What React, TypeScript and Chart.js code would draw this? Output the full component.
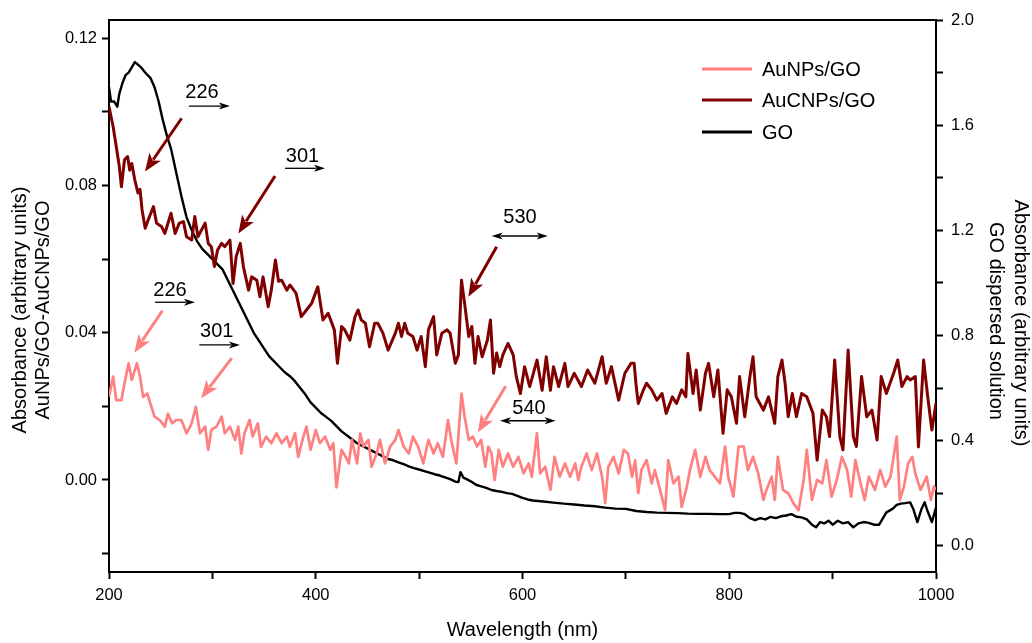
import React, { useEffect, useRef } from 'react';
import { Chart, registerables } from 'chart.js';

Chart.register(...registerables);

const FONT = '"Liberation Sans", Arial, Helvetica, sans-serif';
const COLOR_NP = '#ff8080';
const COLOR_CNP = '#800000';
const COLOR_GO = '#000000';

// ---- Data (wavelength in nm, absorbance) ----
const auNPsNm = [200,204,207,212,215,219,222,227,230,233,
  237,240,244,249,254,257,261,265,270,275,
  280,284,288,293,296,299,304,309,312,317,
  322,325,328,331,336,339,344,347,352,357,
  362,367,372,375,380,383,388,391,395,400,
  404,409,414,417,420,425,429,432,435,440,
  443,446,451,454,459,462,467,472,477,480,
  485,490,494,499,504,509,514,518,523,528,
  531,536,541,544,548,552,556,560,564,567,
  570,573,577,581,586,591,596,601,606,609,
  614,617,622,627,631,636,641,646,651,654,
  657,662,667,672,677,680,683,688,693,698,
  702,706,709,712,715,720,725,728,733,738,
  741,746,751,754,759,762,767,772,777,781,
  786,791,796,799,804,809,814,818,823,828,
  833,836,841,844,847,852,857,862,867,872,
  875,880,885,890,894,899,904,909,914,918,
  922,927,931,935,941,946,951,956,962,965,
  969,973,977,980,985,988,991,995,998,1000];
const auNPsAbs = [0.0226,0.0281,0.0217,0.0217,0.0263,0.0317,0.0272,0.0317,0.0281,0.0226,
  0.0235,0.0208,0.0172,0.0163,0.0145,0.018,0.0154,0.0163,0.0163,0.0127,
  0.0154,0.0199,0.0127,0.0145,0.0082,0.0136,0.0145,0.0172,0.0127,0.0145,
  0.0109,0.0145,0.0072,0.0127,0.0163,0.0118,0.0154,0.009,0.0118,0.01,
  0.0127,0.01,0.0118,0.009,0.0127,0.0063,0.0118,0.0145,0.0082,0.0136,
  0.01,0.0118,0.0082,0.01,-0.002,0.0082,0.0063,0.0045,0.0109,0.0045,
  0.0127,0.0091,0.0109,0.0036,0.0072,0.0109,0.0045,0.0091,0.0109,0.0136,
  0.0091,0.0072,0.0118,0.0091,0.0045,0.0109,0.0072,0.01,0.0063,0.0163,
  0.0109,0.0045,0.0235,0.0172,0.0109,0.0118,0.0091,0.0109,0.0036,0.0091,
  0.0072,0.0,0.0082,0.0036,0.0072,0.0036,0.0063,0.0018,0.0045,0.0009,
  0.0127,0.0018,0.0036,-0.0027,0.0063,0.0009,0.0045,0.0009,0.0045,0.0,
  0.0036,0.0072,0.0027,0.0072,0.0009,-0.0063,0.0036,0.0063,0.0018,0.0082,
  0.0072,0.0009,0.0054,-0.0036,0.0027,0.0054,-0.0009,0.0027,-0.0027,-0.0082,
  0.0054,-0.0009,0.0009,-0.0073,-0.0018,0.0027,0.0082,0.0009,0.0063,0.0027,
  0.0009,-0.0009,0.0091,0.0009,-0.0045,0.0091,0.0091,0.0027,0.0063,0.0018,
  -0.0054,-0.0027,0.0009,-0.0054,0.0063,-0.0027,-0.0036,-0.0063,-0.0082,0.0,
  0.0082,-0.0054,0.0,-0.0009,0.0054,-0.0045,0.0,0.0063,0.0027,-0.0045,
  0.0054,-0.0009,-0.0054,0.0009,-0.0027,0.0027,-0.0018,0.0009,0.0118,-0.0054,
  -0.0018,0.0045,0.0063,0.0018,-0.0027,-0.0009,0.0009,-0.0054,-0.0018,-0.0027];

const auCNPsNm = [200,204,207,210,212,215,218,220,222,225,
  228,230,232,235,238,243,246,251,254,260,
  264,268,272,275,280,283,286,293,296,299,
  302,305,309,312,317,320,323,327,330,335,
  338,343,346,349,354,357,361,364,367,372,
  375,381,386,391,396,402,407,412,418,421,
  425,428,433,438,441,444,448,452,457,460,
  465,470,477,480,483,486,489,494,498,502,
  506,509,514,517,522,527,530,535,538,541,
  544,548,551,554,557,561,566,569,572,575,
  578,581,586,591,594,598,602,607,614,619,
  623,627,630,635,641,644,650,657,663,670,
  677,681,686,693,699,705,708,710,712,717,
  720,725,730,735,739,745,749,754,758,760,
  765,768,772,777,780,785,789,794,798,802,
  807,810,815,820,823,826,833,838,844,847,
  851,854,857,861,865,870,875,881,885,890,
  894,897,902,907,910,915,920,923,928,933,
  938,943,947,952,959,963,967,972,975,980,
  983,988,992,996,1000];
const auCNPsAbs = [0.1015,0.096,0.0906,0.0851,0.0797,0.087,0.0879,0.0842,0.086,0.0815,
  0.078,0.079,0.0734,0.0684,0.0707,0.0743,0.0698,0.0688,0.067,0.0725,
  0.067,0.0698,0.0702,0.0661,0.0652,0.0716,0.0661,0.0698,0.0643,0.0634,
  0.058,0.0625,0.0643,0.0634,0.0652,0.0534,0.0607,0.0643,0.058,0.0516,
  0.0552,0.0543,0.0498,0.0552,0.0471,0.0516,0.0598,0.054,0.0543,0.0516,
  0.053,0.0507,0.0444,0.0462,0.048,0.0525,0.0435,0.0453,0.0408,0.0317,
  0.0417,0.0408,0.038,0.0444,0.0462,0.0435,0.0426,0.0362,0.0426,0.0426,
  0.0399,0.0353,0.0399,0.0426,0.039,0.0426,0.0399,0.039,0.0353,0.039,
  0.0308,0.0408,0.0444,0.034,0.0399,0.0408,0.0399,0.0317,0.034,0.0543,
  0.048,0.039,0.0417,0.0317,0.039,0.0335,0.038,0.0435,0.029,0.0345,
  0.0308,0.034,0.0371,0.034,0.0281,0.0235,0.0308,0.0254,0.0326,0.0244,
  0.0335,0.0244,0.0308,0.0254,0.0317,0.0254,0.029,0.0254,0.0299,0.0263,
  0.0335,0.0263,0.0308,0.0217,0.029,0.0317,0.0317,0.0254,0.0208,0.0245,
  0.0263,0.0245,0.0217,0.0235,0.0181,0.0226,0.0208,0.0245,0.0226,0.0344,
  0.0235,0.0299,0.019,0.029,0.0317,0.0226,0.0299,0.0127,0.0245,0.0226,
  0.0154,0.0281,0.0172,0.0281,0.0335,0.0226,0.019,0.0226,0.0154,0.0281,
  0.0326,0.0263,0.0172,0.0235,0.0172,0.0235,0.0226,0.0181,0.0054,0.019,
  0.0172,0.0118,0.0326,0.0118,0.0082,0.0353,0.0118,0.0091,0.0281,0.0172,
  0.019,0.0109,0.0281,0.0235,0.029,0.0326,0.0254,0.0281,0.0272,0.0281,
  0.009,0.0326,0.0226,0.0136,0.0208];

const goNm = [200,202,205,208,210,213,216,219,222,225,
  228,231,235,240,244,248,252,256,260,265,
  270,275,280,285,290,295,300,305,310,315,
  320,325,330,335,340,345,350,355,360,365,
  370,375,380,385,390,395,400,405,410,415,
  420,425,430,435,440,445,450,455,460,465,
  470,475,480,485,490,495,500,505,510,515,
  520,525,530,535,538,540,543,545,550,555,
  560,565,570,575,580,585,590,595,600,605,
  610,615,620,630,640,650,660,670,680,690,
  700,710,720,730,740,750,760,770,780,790,
  800,805,810,815,820,825,830,835,840,845,
  850,855,860,865,870,875,880,884,888,892,
  896,900,905,910,915,920,925,930,935,940,
  945,948,952,958,962,966,970,975,978,982,
  986,989,992,996,1000];
const goAbs = [1.744,1.69,1.69,1.67,1.72,1.76,1.79,1.80,1.82,1.84,
  1.83,1.82,1.80,1.78,1.745,1.69,1.62,1.56,1.51,1.42,
  1.33,1.25,1.20,1.16,1.13,1.11,1.09,1.07,1.05,1.01,
  0.97,0.93,0.89,0.85,0.81,0.78,0.75,0.72,0.70,0.68,
  0.66,0.645,0.625,0.60,0.575,0.545,0.525,0.505,0.49,0.475,
  0.455,0.435,0.42,0.405,0.39,0.38,0.37,0.36,0.35,0.34,
  0.33,0.325,0.317,0.31,0.302,0.295,0.29,0.284,0.278,0.272,
  0.267,0.26,0.253,0.244,0.242,0.28,0.258,0.255,0.245,0.232,
  0.226,0.22,0.212,0.208,0.205,0.2,0.197,0.19,0.182,0.176,
  0.172,0.17,0.168,0.164,0.16,0.157,0.153,0.15,0.145,0.141,
  0.14,0.132,0.128,0.126,0.125,0.124,0.122,0.121,0.121,0.12,
  0.12,0.125,0.125,0.12,0.105,0.097,0.105,0.1,0.11,0.105,
  0.112,0.115,0.12,0.11,0.108,0.1,0.08,0.07,0.09,0.085,
  0.095,0.08,0.095,0.085,0.09,0.07,0.085,0.09,0.087,0.08,
  0.08,0.1,0.127,0.14,0.155,0.16,0.162,0.165,0.14,0.09,
  0.14,0.165,0.13,0.09,0.145];

// ---- Ticks ----
const xTickValues = [200, 300, 400, 500, 600, 700, 800, 900, 1000];
const xTickLabels = ['200', '', '400', '', '600', '', '800', '', '1000'];
const leftTickValues = [-0.02, 0, 0.02, 0.04, 0.06, 0.08, 0.1, 0.12];
const leftTickLabels = ['', '0.00', '', '0.04', '', '0.08', '', '0.12'];
const rightTickValues = [0, 0.2, 0.4, 0.6, 0.8, 1.0, 1.2, 1.4, 1.6, 1.8, 2.0];
const rightTickLabels = ['0.0', '', '0.4', '', '0.8', '', '1.2', '', '1.6', '', '2.0'];

// ---- Annotations (in data units: nm, left-axis absorbance) ----
const peakLabels = [
  { text: '226', nm: 290.0, abs: 0.1052, from: 277.4, to: 317.0, at: 0.1016, both: false },
  { text: '301', nm: 387.2, abs: 0.0879, from: 370.3, to: 409.0, at: 0.0847, both: false },
  { text: '530', nm: 597.6, abs: 0.0713, from: 570.2, to: 624.4, at: 0.0663, both: true },
  { text: '226', nm: 259.0, abs: 0.0516, from: 244.5, to: 283.2, at: 0.0483, both: false },
  { text: '301', nm: 304.2, abs: 0.0403, from: 287.4, to: 326.7, at: 0.0367, both: false },
  { text: '540', nm: 606.3, abs: 0.0193, from: 578.2, to: 632.1, at: 0.0161, both: true },
];
const pointerArrows = [
  { series: 1, nm1: 270.3, a1: 0.0983, nm2: 234.8, a2: 0.0838 },
  { series: 1, nm1: 360.6, a1: 0.0826, nm2: 325.1, a2: 0.0670 },
  { series: 1, nm1: 575.0, a1: 0.0634, nm2: 547.6, a2: 0.0498 },
  { series: 0, nm1: 251.6, a1: 0.0460, nm2: 224.5, a2: 0.0346 },
  { series: 0, nm1: 318.7, a1: 0.0331, nm2: 289.0, a2: 0.0222 },
  { series: 0, nm1: 583.7, a1: 0.0255, nm2: 556.7, a2: 0.0129 },
];

function toPoints(xs: number[], ys: number[]) {
  return xs.map((x, i) => ({ x, y: ys[i] }));
}

function drawArrow(ctx: CanvasRenderingContext2D, x1: number, y1: number, x2: number, y2: number,
  color: string, width: number, headLen: number, headHalf: number, both: boolean) {
  const ang = Math.atan2(y2 - y1, x2 - x1);
  const c = Math.cos(ang), s = Math.sin(ang);
  const sx = both ? x1 + c * headLen * 0.8 : x1;
  const sy = both ? y1 + s * headLen * 0.8 : y1;
  const ex = x2 - c * headLen * 0.8;
  const ey = y2 - s * headLen * 0.8;
  ctx.strokeStyle = color;
  ctx.fillStyle = color;
  ctx.lineWidth = width;
  ctx.lineCap = 'butt';
  ctx.beginPath();
  ctx.moveTo(sx, sy);
  ctx.lineTo(ex, ey);
  ctx.stroke();
  const head = (tx: number, ty: number, dc: number, ds: number) => {
    ctx.beginPath();
    ctx.moveTo(tx, ty);
    ctx.lineTo(tx - dc * headLen - ds * headHalf, ty - ds * headLen + dc * headHalf);
    ctx.lineTo(tx - dc * headLen * 0.75, ty - ds * headLen * 0.75);
    ctx.lineTo(tx - dc * headLen + ds * headHalf, ty - ds * headLen - dc * headHalf);
    ctx.closePath();
    ctx.fill();
  };
  head(x2, y2, c, s);
  if (both) head(x1, y1, -c, -s);
}

const decorPlugin = {
  id: 'decor',
  afterDatasetsDraw(chart: any) {
    const { ctx, chartArea: ca, scales } = chart;
    const xs = scales.x;
    const ys = scales.y;
    const datasets = chart.data.datasets;
    ctx.save();

    // top frame line
    ctx.strokeStyle = '#000';
    ctx.lineWidth = 2;
    ctx.beginPath();
    ctx.moveTo(ca.left - 1, ca.top);
    ctx.lineTo(ca.right + 1, ca.top);
    ctx.stroke();

    // coloured pointer arrows
    for (const a of pointerArrows) {
      drawArrow(ctx,
        xs.getPixelForValue(a.nm1), ys.getPixelForValue(a.a1),
        xs.getPixelForValue(a.nm2), ys.getPixelForValue(a.a2),
        datasets[a.series].borderColor, 3, 18, 7, false);
    }

    // peak labels with small black arrows
    ctx.font = `20px ${FONT}`;
    ctx.textAlign = 'center';
    ctx.textBaseline = 'middle';
    for (const p of peakLabels) {
      ctx.fillStyle = '#000';
      ctx.fillText(p.text, xs.getPixelForValue(p.nm), ys.getPixelForValue(p.abs));
      const ay = ys.getPixelForValue(p.at);
      drawArrow(ctx, xs.getPixelForValue(p.from), ay, xs.getPixelForValue(p.to), ay,
        '#000', 1.3, 11, 3.5, p.both);
    }

    // legend
    const legendX = ca.left + 593;
    const legendY = [69, 100, 132];
    ctx.textAlign = 'left';
    datasets.forEach((ds: any, i: number) => {
      ctx.strokeStyle = ds.borderColor;
      ctx.lineWidth = 3;
      ctx.beginPath();
      ctx.moveTo(legendX, legendY[i]);
      ctx.lineTo(legendX + 50, legendY[i]);
      ctx.stroke();
      ctx.fillStyle = '#000';
      ctx.fillText(ds.label, legendX + 60, legendY[i] + 1);
    });

    // y-axis titles
    ctx.fillStyle = '#000';
    ctx.textAlign = 'center';
    ctx.save();
    ctx.translate(20, 310);
    ctx.rotate(-Math.PI / 2);
    ctx.fillText('Absorbance (arbitrary units)', 0, 0);
    ctx.restore();
    ctx.save();
    ctx.translate(43, 310);
    ctx.rotate(-Math.PI / 2);
    ctx.fillText('AuNPs/GO-AuCNPs/GO', 0, 0);
    ctx.restore();
    ctx.save();
    ctx.translate(1021, 323);
    ctx.rotate(Math.PI / 2);
    ctx.fillText('Absorbance (arbitrary units)', 0, 0);
    ctx.restore();
    ctx.save();
    ctx.translate(996, 321);
    ctx.rotate(Math.PI / 2);
    ctx.fillText('GO dispersed solution', 0, 0);
    ctx.restore();

    ctx.restore();
  },
};

export default function App() {
  const canvasRef = useRef<HTMLCanvasElement | null>(null);

  useEffect(() => {
    const canvas = canvasRef.current;
    if (!canvas) return;
    const tickFont = { family: FONT, size: 16.5 };
    const gridCommon = {
      display: true,
      drawOnChartArea: false,
      drawTicks: true,
      tickLength: 7,
      tickColor: '#000',
      tickWidth: 2,
    };
    const chart = new Chart(canvas, {
      type: 'line',
      data: {
        datasets: [
          {
            label: 'AuNPs/GO',
            data: toPoints(auNPsNm, auNPsAbs),
            borderColor: COLOR_NP,
            backgroundColor: COLOR_NP,
            borderWidth: 2.7,
            pointRadius: 0,
            tension: 0,
            borderJoinStyle: 'round',
            yAxisID: 'y',
          },
          {
            label: 'AuCNPs/GO',
            data: toPoints(auCNPsNm, auCNPsAbs),
            borderColor: COLOR_CNP,
            backgroundColor: COLOR_CNP,
            borderWidth: 3,
            pointRadius: 0,
            tension: 0,
            borderJoinStyle: 'round',
            yAxisID: 'y',
          },
          {
            label: 'GO',
            data: toPoints(goNm, goAbs),
            borderColor: COLOR_GO,
            backgroundColor: COLOR_GO,
            borderWidth: 2.4,
            pointRadius: 0,
            tension: 0,
            borderJoinStyle: 'round',
            yAxisID: 'y2',
          },
        ],
      },
      options: {
        responsive: false,
        animation: false,
        devicePixelRatio: 1,
        layout: { padding: { top: 20, left: 0, right: 0, bottom: 0 } },
        plugins: {
          legend: { display: false },
          tooltip: { enabled: false },
        },
        scales: {
          x: {
            type: 'linear',
            position: 'bottom',
            min: 200,
            max: 1000,
            afterBuildTicks: (scale: any) => {
              scale.ticks = xTickValues.map((v) => ({ value: v }));
            },
            afterFit: (scale: any) => {
              scale.height = 71;
            },
            ticks: {
              autoSkip: false,
              maxRotation: 0,
              color: '#000',
              font: tickFont,
              padding: 7,
              callback: (_v: any, i: number) => xTickLabels[i],
            },
            grid: gridCommon,
            border: { display: true, color: '#000', width: 2 },
            title: {
              display: true,
              text: 'Wavelength (nm)',
              color: '#000',
              font: { family: FONT, size: 20 },
              padding: { top: 0, bottom: 1 },
            },
          },
          y: {
            type: 'linear',
            position: 'left',
            min: -0.025,
            max: 0.125,
            afterBuildTicks: (scale: any) => {
              scale.ticks = leftTickValues.map((v) => ({ value: v }));
            },
            afterFit: (scale: any) => {
              scale.width = 109;
            },
            ticks: {
              autoSkip: false,
              color: '#000',
              font: tickFont,
              padding: 5,
              callback: (_v: any, i: number) => leftTickLabels[i],
            },
            grid: gridCommon,
            border: { display: true, color: '#000', width: 2 },
          },
          y2: {
            type: 'linear',
            position: 'right',
            min: -0.1,
            max: 2.0,
            afterBuildTicks: (scale: any) => {
              scale.ticks = rightTickValues.map((v) => ({ value: v }));
            },
            afterFit: (scale: any) => {
              scale.width = 96;
            },
            ticks: {
              autoSkip: false,
              color: '#000',
              font: tickFont,
              padding: 8,
              callback: (_v: any, i: number) => rightTickLabels[i],
            },
            grid: gridCommon,
            border: { display: true, color: '#000', width: 2 },
          },
        },
      },
      plugins: [decorPlugin],
    } as any);
    return () => chart.destroy();
  }, []);

  return (
    <div style={{ position: 'absolute', left: 0, top: 0, width: 1032, height: 643, background: '#fff' }}>
      <canvas ref={canvasRef} width={1032} height={643} />
    </div>
  );
}
